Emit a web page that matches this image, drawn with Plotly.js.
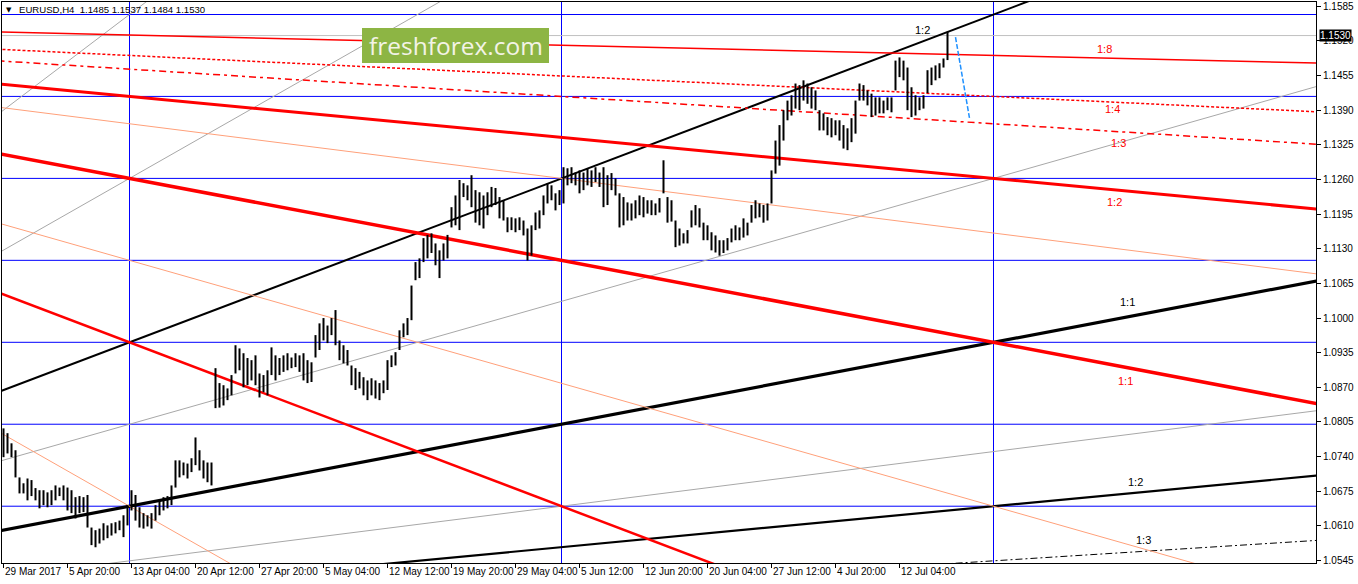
<!DOCTYPE html>
<html><head><meta charset="utf-8">
<script src="https://cdn.plot.ly/plotly-3.0.1.min.js"></script>
<style>html,body{margin:0;padding:0;background:#fff;overflow:hidden}#chart{width:1358px;height:584px}</style>
</head><body><div id="chart"></div>
<script>
// ---- price bars (each entry = 8h, two H4 bars), EURUSD ----
const highs = [1.0793,1.0784,1.0765,1.0752,1.0701,1.0690,1.0699,1.0696,1.0681,1.0677,
1.0677,1.0673,1.0677,1.0686,1.0682,1.0686,1.0682,1.0677,1.0664,1.0666,
1.0664,1.0668,1.0607,1.0602,1.0605,1.0615,1.0611,1.0615,1.0617,1.0620,
1.0630,1.0649,1.0677,1.0668,1.0645,1.0634,1.0630,1.0634,1.0649,1.0658,
1.0664,1.0666,1.0686,1.0733,1.0733,1.0729,1.0727,1.0737,1.0776,1.0752,
1.0733,1.0729,1.0729,1.0906,1.0878,1.0874,1.0868,1.0893,1.0949,1.0943,
1.0934,1.0925,1.0921,1.0930,1.0896,1.0893,1.0902,1.0945,1.0930,1.0925,
1.0930,1.0934,1.0926,1.0934,1.0930,1.0934,1.0921,1.0917,1.0968,1.0990,
1.1000,1.0986,1.1000,1.1015,1.0958,1.0949,1.0940,1.0911,1.0906,1.0899,
1.0889,1.0883,1.0887,1.0883,1.0878,1.0883,1.0921,1.0930,1.0936,1.0977,
1.0990,1.1000,1.1061,1.1105,1.1112,1.1150,1.1156,1.1159,1.1140,1.1127,
1.1140,1.1156,1.1208,1.1230,1.1259,1.1253,1.1249,1.1268,1.1240,1.1236,
1.1230,1.1236,1.1246,1.1244,1.1227,1.1221,1.1189,1.1189,1.1187,1.1189,
1.1183,1.1168,1.1174,1.1198,1.1202,1.1230,1.1253,1.1249,1.1234,1.1240,
1.1283,1.1281,1.1283,1.1273,1.1277,1.1273,1.1281,1.1277,1.1283,1.1273,
1.1283,1.1268,1.1272,1.1262,1.1234,1.1227,1.1217,1.1215,1.1221,1.1230,
1.1227,1.1221,1.1221,1.1215,1.1225,1.1296,1.1227,1.1221,1.1183,1.1168,
1.1159,1.1165,1.1202,1.1212,1.1206,1.1179,1.1174,1.1161,1.1155,1.1146,
1.1146,1.1150,1.1168,1.1174,1.1170,1.1187,1.1179,1.1212,1.1221,1.1215,
1.1212,1.1215,1.1277,1.1333,1.1362,1.1390,1.1408,1.1418,1.1440,1.1437,
1.1446,1.1440,1.1433,1.1427,1.1390,1.1384,1.1377,1.1375,1.1371,1.1371,
1.1362,1.1356,1.1375,1.1408,1.1440,1.1437,1.1427,1.1421,1.1414,1.1414,
1.1408,1.1414,1.1414,1.1483,1.1489,1.1483,1.1470,1.1433,1.1418,1.1414,
1.1418,1.1465,1.1470,1.1474,1.1478,1.1487,1.1537];
const lows = [1.0739,1.0746,1.0739,1.0701,1.0671,1.0671,1.0658,1.0666,1.0658,1.0643,
1.0649,1.0645,1.0649,1.0658,1.0666,1.0658,1.0639,1.0634,1.0624,1.0634,
1.0636,1.0607,1.0574,1.0570,1.0577,1.0583,1.0587,1.0592,1.0596,1.0602,
1.0589,1.0611,1.0639,1.0620,1.0607,1.0605,1.0609,1.0605,1.0620,1.0630,
1.0639,1.0643,1.0649,1.0682,1.0701,1.0705,1.0699,1.0711,1.0724,1.0714,
1.0699,1.0692,1.0686,1.0831,1.0832,1.0836,1.0846,1.0855,1.0896,1.0902,
1.0870,1.0874,1.0883,1.0874,1.0851,1.0861,1.0855,1.0893,1.0883,1.0893,
1.0899,1.0902,1.0906,1.0908,1.0899,1.0883,1.0878,1.0880,1.0926,1.0940,
1.0958,1.0953,1.0968,1.0949,1.0921,1.0915,1.0911,1.0874,1.0865,1.0868,
1.0855,1.0846,1.0855,1.0849,1.0846,1.0859,1.0865,1.0908,1.0911,1.0940,
1.0964,1.0968,1.0996,1.1071,1.1075,1.1105,1.1112,1.1122,1.1099,1.1075,
1.1108,1.1112,1.1170,1.1174,1.1165,1.1227,1.1221,1.1208,1.1179,1.1174,
1.1168,1.1193,1.1208,1.1212,1.1187,1.1183,1.1161,1.1165,1.1161,1.1165,
1.1155,1.1108,1.1117,1.1165,1.1168,1.1193,1.1215,1.1221,1.1202,1.1212,
1.1215,1.1249,1.1253,1.1249,1.1234,1.1240,1.1249,1.1246,1.1255,1.1246,
1.1208,1.1212,1.1240,1.1230,1.1170,1.1174,1.1183,1.1183,1.1187,1.1193,
1.1189,1.1196,1.1193,1.1193,1.1198,1.1234,1.1179,1.1181,1.1133,1.1136,
1.1140,1.1140,1.1170,1.1174,1.1170,1.1146,1.1146,1.1127,1.1123,1.1117,
1.1122,1.1127,1.1142,1.1146,1.1146,1.1151,1.1155,1.1179,1.1187,1.1189,
1.1179,1.1183,1.1215,1.1271,1.1286,1.1333,1.1371,1.1380,1.1393,1.1390,
1.1408,1.1402,1.1393,1.1390,1.1352,1.1352,1.1343,1.1339,1.1343,1.1333,
1.1318,1.1315,1.1330,1.1346,1.1408,1.1408,1.1399,1.1377,1.1380,1.1384,
1.1384,1.1390,1.1386,1.1427,1.1452,1.1446,1.1390,1.1377,1.1380,1.1390,
1.1393,1.1422,1.1437,1.1446,1.1450,1.1470,1.1484];
const barsPerEntry = 2;

// ---- axes ----
const dateTickBars = [0,32,64,96,128,160,192,224,256,288,320,352,384,416,448];
const dateTickLabels = ["29 Mar 2017","5 Apr 20:00","13 Apr 04:00","20 Apr 12:00","27 Apr 20:00",
"5 May 04:00","12 May 12:00","19 May 20:00","29 May 04:00","5 Jun 12:00","12 Jun 20:00",
"20 Jun 04:00","27 Jun 12:00","4 Jul 20:00","12 Jul 04:00"];
const priceTicks = [1.1585,1.1520,1.1455,1.1390,1.1325,1.1260,1.1195,1.1130,1.1065,1.1000,
1.0935,1.0870,1.0805,1.0740,1.0675,1.0610,1.0545];
const barRange = [-0.75, 656.25];
const priceRange = [1.054045, 1.159295];

// ---- Gann grid & fans ----
const gridLevels = [1.15695,1.14158,1.12620,1.11083,1.09545,1.08008,1.06470];
const gridBars = [63,279,495];
const fanOriginBar = -369;
const fanBarsPerStep = 216;
const fanPriceStep = 0.015375;
const blackFanOriginPrice = 1.03395;
const redFanOriginPrice = 1.15695;
const blackFanRatios = [4,3,2,1.5,1,2/3,1/2,1/3];
const redFanRatios = [3,2,1.5,1,2/3,1/2,1/3,1/4,1/8];
const lastPrice = 1.1530;
const headerText = "EURUSD,H4  1.1485 1.1537 1.1484 1.1530";
const projBars = [476,483];
const projPrices = [1.1527,1.1375];
const fanLabelText = ["1:8","1:4","1:3","1:2","1:1","1:2","1:1","1:2","1:3"];
const fanLabelColor = ["#ff0000","#ff0000","#ff0000","#ff0000","#ff0000","#000000","#000000","#000000","#000000"];
const fanLabelBar = [550.5,554.5,557.5,555.5,561,459.5,562,566,570];
const fanLabelPrice = [1.1504,1.1392,1.1328,1.1218,1.0882,1.1540,1.1031,1.0692,1.0584];

const FONT = "Liberation Sans, Arial, sans-serif";
const traces = [];

// blue horizontal levels
{ const x=[],y=[]; gridLevels.forEach(p=>{x.push(barRange[0]-5,barRange[1]+5,null);y.push(p,p,null);});
  traces.push({type:'scatter',mode:'lines',x,y,line:{color:'#0000ff',width:1},hoverinfo:'skip'}); }
// blue vertical lines
{ const x=[],y=[]; gridBars.forEach(b=>{x.push(b,b,null);y.push(priceRange[0]-0.01,priceRange[1]+0.01,null);});
  traces.push({type:'scatter',mode:'lines',x,y,line:{color:'#0000ff',width:1},hoverinfo:'skip'}); }
// bid line
traces.push({type:'scatter',mode:'lines',x:[barRange[0]-5,barRange[1]+5],y:[lastPrice,lastPrice],line:{color:'#c0c0c0',width:1},hoverinfo:'skip'});

function fanLine(p0, dir, r, style){
  const xs=[-3,660];
  const ys=xs.map(i=>p0+dir*r*(fanPriceStep/fanBarsPerStep)*(i-fanOriginBar));
  traces.push({type:'scatter',mode:'lines',x:xs,y:ys,line:style,hoverinfo:'skip'});
}
const grey={color:'#a8a8a8',width:1};
const salmon={color:'#ffa07a',width:1};
const blackStyles={4:grey,3:grey,2:{color:'#000',width:2},1.5:grey,1:{color:'#000',width:3.2},
  [2/3]:grey,0.5:{color:'#000',width:2.2},[1/3]:{color:'#000',width:1,dash:'7px,3px,2px,3px'}};
const redStyles={3:salmon,2:{color:'#ff0000',width:2.5},1.5:salmon,1:{color:'#ff0000',width:3.5},
  [2/3]:salmon,0.5:{color:'#ff0000',width:3},[1/3]:{color:'#ff0000',width:1.5,dash:'7px,4px,3px,4px'},
  0.25:{color:'#ff0000',width:1.5,dash:'3px,2px'},0.125:{color:'#ff0000',width:1.5}};
blackFanRatios.forEach(r=>fanLine(blackFanOriginPrice,1,r,blackStyles[r]));
redFanRatios.forEach(r=>fanLine(redFanOriginPrice,-1,r,redStyles[r]));

// projection line
traces.push({type:'scatter',mode:'lines',x:projBars,y:projPrices,line:{color:'#1e90ff',width:1.5,dash:'5px,2px'},hoverinfo:'skip'});

// bars
{ const x=[],y=[]; highs.forEach((h,k)=>{const b=k*barsPerEntry; x.push(b,b,null); y.push(lows[k],h,null);});
  traces.push({type:'scatter',mode:'lines',x,y,line:{color:'#000',width:2},hoverinfo:'skip'}); }

const annotations = [];
dateTickBars.forEach((b,j)=>annotations.push({x:b,y:0,xref:'x',yref:'paper',xanchor:'left',yanchor:'top',
  yshift:-1,xshift:-1,text:dateTickLabels[j],showarrow:false,font:{family:FONT,size:10,color:'#000'}}));
fanLabelText.forEach((t,j)=>annotations.push({x:fanLabelBar[j],y:fanLabelPrice[j],xref:'x',yref:'y',
  xanchor:'center',yanchor:'middle',text:t,showarrow:false,font:{family:FONT,size:11,color:fanLabelColor[j]}}));
const W=1314,H=561;
const px=x=>(x-2)/W, py=y=>1-(y-2)/H;
annotations.push({x:px(9),y:py(10),xref:'paper',yref:'paper',xanchor:'center',yanchor:'middle',text:'▼',showarrow:false,
  font:{family:'DejaVu Sans',size:7,color:'#000'}});
annotations.push({x:px(17),y:py(9.5),xref:'paper',yref:'paper',xanchor:'left',yanchor:'middle',text:headerText,showarrow:false,
  font:{family:FONT,size:9.6,color:'#000'}});
annotations.push({x:1,y:lastPrice,xref:'paper',yref:'y',xanchor:'left',yanchor:'middle',xshift:3,text:lastPrice.toFixed(4),
  showarrow:false,bgcolor:'#000',borderpad:0,font:{family:FONT,size:10,color:'#fff'}});
annotations.push({x:px(455.5),y:py(45),xref:'paper',yref:'paper',xanchor:'center',yanchor:'middle',text:'freshforex.com',showarrow:false,
  font:{family:'Open Sans, sans-serif',size:24.5,color:'#f3f3e6'}});

const layout = {
  width:1358,height:584,margin:{l:2,r:42,t:2,b:21,pad:0},
  paper_bgcolor:'#fff',plot_bgcolor:'#fff',showlegend:false,
  xaxis:{range:barRange,autorange:false,fixedrange:true,showgrid:false,zeroline:false,
    tickvals:dateTickBars,showticklabels:false,ticks:'outside',ticklen:4,tickcolor:'#000',
    showline:true,linecolor:'#000',linewidth:1,mirror:true},
  yaxis:{range:priceRange,autorange:false,fixedrange:true,side:'right',showgrid:false,zeroline:false,
    tickvals:priceTicks,ticktext:priceTicks.map(v=>v.toFixed(4)),ticks:'outside',ticklen:4,tickcolor:'#000',
    tickfont:{family:FONT,size:10,color:'#000'},showline:true,linecolor:'#000',linewidth:1,mirror:true},
  shapes:[{type:'rect',xref:'paper',yref:'paper',x0:px(362),x1:px(549),y0:py(63),y1:py(28),
    fillcolor:'#8db544',line:{width:0},layer:'above'}],
  annotations
};
Plotly.newPlot('chart',traces,layout,{staticPlot:true,displayModeBar:false});
</script></body></html>
